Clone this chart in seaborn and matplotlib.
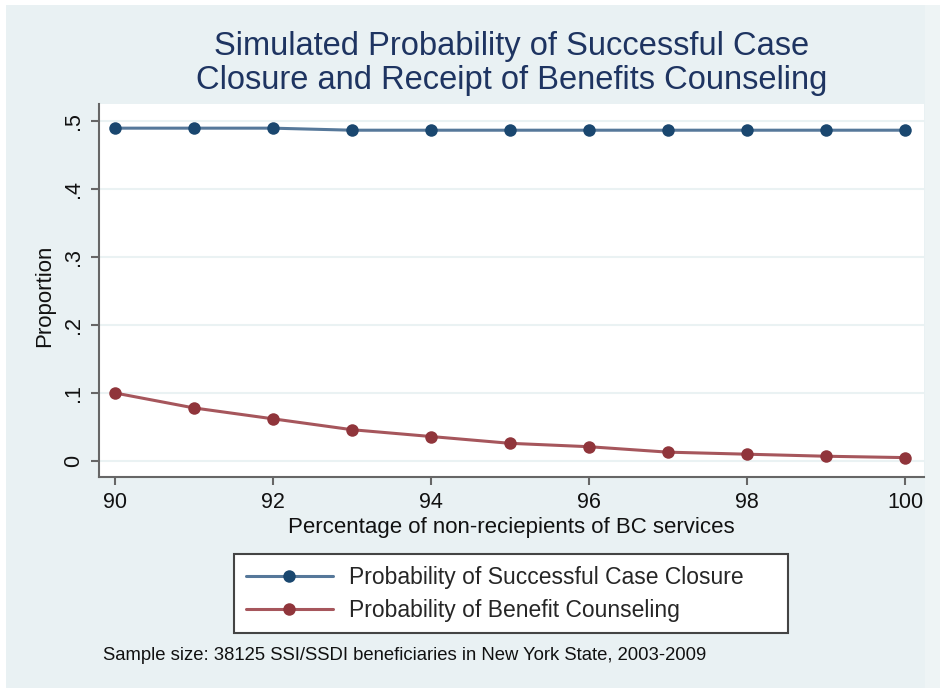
import pandas as pd
import numpy as np
import matplotlib
matplotlib.use("Agg")
import matplotlib.pyplot as plt
import seaborn as sns
from matplotlib.patches import Rectangle

# data
pct_non_recipients = [90, 91, 92, 93, 94, 95, 96, 97, 98, 99, 100]
prob_closure = [0.489, 0.489, 0.489, 0.486, 0.486, 0.486, 0.486, 0.486, 0.486, 0.486, 0.486]
prob_counseling = [0.100, 0.078, 0.062, 0.046, 0.036, 0.026, 0.021, 0.013, 0.010, 0.007, 0.005]
series_names = ["Probability of Successful Case Closure", "Probability of Benefit Counseling"]
y_ticks = [0, 0.1, 0.2, 0.3, 0.4, 0.5]
y_tick_labels = ["0", ".1", ".2", ".3", ".4", ".5"]
x_ticks = [90, 92, 94, 96, 98, 100]

df = pd.DataFrame({
    "pct": pct_non_recipients * 2,
    "value": prob_closure + prob_counseling,
    "series": [series_names[0]] * len(pct_non_recipients) + [series_names[1]] * len(pct_non_recipients),
})

sns.set_style("white")
plt.rcParams["font.family"] = ["Liberation Sans", "DejaVu Sans"]

bg = "#e9f1f3"
marker_cols = ["#1a476f", "#90353b"]
line_cols = ["#56789a", "#a6565c"]

fig = plt.figure(figsize=(9.4, 6.88), dpi=100, facecolor="white")
fig.patches.append(Rectangle((6 / 940, 0), 919 / 940, 683 / 688, transform=fig.transFigure,
                             facecolor=bg, edgecolor="none", zorder=-10))
fig.patches.append(Rectangle((925 / 940, 0), 15 / 940, 683 / 688, transform=fig.transFigure,
                             facecolor="#eef4f5", edgecolor="none", zorder=-10))
ax = fig.add_axes([99 / 940, 1 - 477 / 688, 825 / 940, 373 / 688])
ax.set_facecolor("white")

sns.lineplot(data=df, x="pct", y="value", hue="series", hue_order=series_names,
             palette=marker_cols, marker="o", markersize=9, markeredgewidth=0,
             linewidth=2.2, ax=ax, legend=False)

lines = ax.get_lines()[:2]
for ln, lc, mc in zip(lines, line_cols, marker_cols):
    ln.set_color(lc)
    ln.set_markerfacecolor(mc)
    ln.set_markeredgecolor(mc)

ax.set_xlim(89.8, 100.24)
ax.set_ylim(-0.0235, 0.5245)
ax.set_xticks(x_ticks)
ax.set_yticks(y_ticks)
ax.set_yticklabels(y_tick_labels, rotation=90, va="center")
ax.grid(axis="y", color="#eaf2f3", linewidth=1.5)
ax.grid(axis="x", visible=False)
ax.set_axisbelow(True)

for s in ["top", "right"]:
    ax.spines[s].set_visible(False)
for s in ["left", "bottom"]:
    ax.spines[s].set_color("#666666")
    ax.spines[s].set_linewidth(1.5)
ax.tick_params(axis="both", which="major", direction="out", length=6, width=1.5,
               color="#666666", labelsize=15.5, labelcolor="#111111", pad=5, bottom=True, left=True)

ax.set_xlabel("Percentage of non-reciepients of BC services", fontsize=16, color="#111111", labelpad=3)
ax.set_ylabel("Proportion", fontsize=16, color="#111111", labelpad=6)
ax.yaxis.set_label_coords(-0.053, 0.485)

fig.text(512 / 940, 1 - 31 / 688, "Simulated Probability of Successful Case\nClosure and Receipt of Benefits Counseling",
         ha="center", va="top", fontsize=23.5, color="#1e3461", linespacing=1.12)

leg = fig.legend(handles=lines, labels=series_names, loc="upper left",
                 bbox_to_anchor=(234 / 940, 1 - 631 / 688, 554 / 940, 77 / 688), bbox_transform=fig.transFigure,
                 mode="expand", fontsize=16.5, frameon=True, fancybox=False, framealpha=1, handlelength=3.8,
                 handletextpad=0.7, borderpad=0.52, labelspacing=0.42, borderaxespad=0)
leg.get_frame().set_edgecolor("#444444")
leg.get_frame().set_linewidth(1.5)
leg.get_frame().set_facecolor("white")

fig.text(103 / 940, 1 - 656 / 688, "Sample size: 38125 SSI/SSDI beneficiaries in New York State, 2003-2009",
         ha="left", va="center", fontsize=13.3, color="#111111")

fig.savefig("out.png", dpi=100, facecolor=fig.get_facecolor())
